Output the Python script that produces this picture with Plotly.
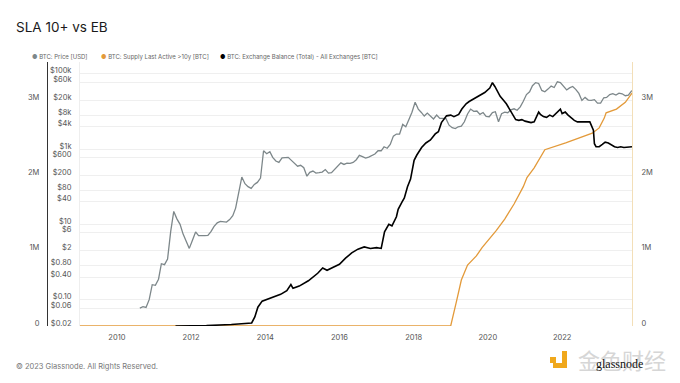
import math
import pandas as pd
import plotly.graph_objects as go

# ---------------- data ----------------
price_start = "2010-07-15"
price_usd = [
    # 2010 Jul..Dec
    0.06, 0.065, 0.062, 0.1, 0.25, 0.24,
    # 2011
    0.35, 0.9, 0.85, 1.2, 6.5, 22, 14, 10, 5.5, 3.5, 2.3, 3.8,
    # 2012
    6.3, 5.0, 4.9, 5.0, 5.1, 6.4, 8.8, 11, 12, 11.5, 11.5, 13.4,
    # 2013
    17, 27, 70, 180, 120, 100, 90, 115, 130, 170, 900, 750,
    # 2014
    850, 600, 480, 440, 580, 600, 600, 500, 410, 350, 370, 320,
    # 2015
    190, 240, 260, 230, 235, 245, 285, 230, 235, 290, 360, 430,
    # 2016
    390, 420, 415, 440, 520, 680, 630, 575, 610, 680, 740, 900,
    # 2017
    900, 1150, 1050, 1330, 2200, 2500, 2500, 4500, 3900, 6100, 9500, 17500,
    # 2018
    11500, 9500, 7500, 9000, 7600, 6300, 8000, 6500, 6500, 6400, 4300, 3700,
    # 2019
    3500, 3900, 4050, 5300, 8500, 11500, 10000, 10200, 8300, 9300, 7400, 7200,
    # 2020
    9300, 9800, 5300, 8700, 9500, 9200, 11000, 11700, 10700, 13200, 18500, 28000,
    # 2021
    33000, 48000, 58000, 55000, 36000, 33000, 39000, 47000, 43000, 61000, 58000, 47000,
    # 2022
    37000, 42000, 46000, 38500, 30000, 19500, 23500, 20000, 19500, 20500, 16500, 16600,
    # 2023 Jan..Nov
    23000, 23500, 28000, 29500, 27000, 30500, 29300, 26000, 27000, 34500, 37000,
]
price_dates = pd.date_range(price_start, periods=len(price_usd), freq="MS") + pd.Timedelta(days=14)

exch_dates = [
    "2011-08-01", "2012-06-01", "2013-02-01", "2013-08-20", "2013-09-20", "2013-10-20",
    "2013-12-01", "2014-02-01", "2014-04-01", "2014-06-01", "2014-08-01", "2014-09-10",
    "2014-10-01", "2014-12-01", "2015-03-01", "2015-06-01", "2015-07-20", "2015-09-01",
    "2015-11-01", "2016-01-01", "2016-03-01", "2016-05-01", "2016-07-01", "2016-09-01",
    "2016-11-01", "2017-01-01", "2017-02-15", "2017-03-20", "2017-05-01", "2017-06-01",
    "2017-07-15", "2017-08-01", "2017-09-10", "2017-10-01", "2017-11-01", "2017-12-01",
    "2018-01-05", "2018-02-01", "2018-03-20", "2018-05-01", "2018-06-15", "2018-08-01",
    "2018-09-01", "2018-10-01", "2018-11-20", "2019-01-01", "2019-02-01", "2019-03-20",
    "2019-04-20", "2019-06-01", "2019-07-01", "2019-08-20", "2019-10-01", "2019-12-01",
    "2020-01-20", "2020-02-15", "2020-03-10", "2020-04-01", "2020-05-01", "2020-06-01",
    "2020-07-01", "2020-08-01", "2020-09-01", "2020-10-01", "2020-11-01", "2020-12-01",
    "2021-01-01", "2021-02-01", "2021-03-01", "2021-04-01", "2021-05-15", "2021-06-01",
    "2021-07-01", "2021-08-01", "2021-09-01", "2021-10-01", "2021-11-01", "2021-12-15",
    "2022-01-01", "2022-02-01", "2022-03-01", "2022-04-01", "2022-05-01", "2022-06-01",
    "2022-07-01", "2022-08-01", "2022-09-01", "2022-10-01", "2022-11-05", "2022-11-15",
    "2022-12-01", "2023-01-01", "2023-02-01", "2023-03-01", "2023-04-01", "2023-05-01",
    "2023-06-01", "2023-07-01", "2023-08-01", "2023-09-01", "2023-10-01", "2023-11-20",
]
exch_btc_m = [
    0.0, 0.005, 0.02, 0.04, 0.12, 0.25,
    0.33, 0.36, 0.38, 0.42, 0.47, 0.55,
    0.50, 0.53, 0.60, 0.70, 0.77, 0.74,
    0.78, 0.82, 0.90, 0.97, 1.02, 1.05,
    1.03, 1.04, 1.03, 1.25, 1.35, 1.33,
    1.45, 1.55, 1.65, 1.70, 1.85, 1.95,
    2.20, 2.27, 2.37, 2.43, 2.47, 2.55,
    2.58, 2.70, 2.79, 2.80, 2.78, 2.81,
    2.88, 2.95, 2.98, 3.02, 3.05, 3.10,
    3.16, 3.23, 3.18, 3.12, 3.05, 3.00,
    2.95, 2.88, 2.80, 2.74, 2.73, 2.74,
    2.72, 2.71, 2.70, 2.71, 2.84, 2.81,
    2.78, 2.77, 2.80, 2.78, 2.82, 2.88,
    2.82, 2.84, 2.80, 2.76, 2.73, 2.71,
    2.71, 2.70, 2.70, 2.71, 2.60, 2.42,
    2.38, 2.38, 2.41, 2.44, 2.43, 2.40,
    2.38, 2.37, 2.38, 2.37, 2.37, 2.38,
]

sla_dates = [
    "2009-01-03", "2018-12-31", "2019-02-25", "2019-04-15", "2019-06-15", "2019-09-10",
    "2019-11-05", "2020-02-01", "2020-03-25", "2020-06-15", "2020-09-15", "2020-12-15",
    "2021-01-20", "2021-04-01", "2021-06-15", "2021-07-15", "2022-02-05", "2022-07-15",
    "2022-10-25", "2023-01-01", "2023-02-20", "2023-03-10", "2023-06-20", "2023-09-15",
    "2023-11-20",
]
sla_btc_m = [
    0.0, 0.0, 0.32, 0.61, 0.81, 0.93,
    1.04, 1.18, 1.27, 1.42, 1.62, 1.85,
    1.97, 2.10, 2.27, 2.34, 2.43, 2.51,
    2.56, 2.63, 2.76, 2.83, 2.88, 2.97,
    3.09,
]

price_tick_vals = [100000, 60000, 20000, 8000, 4000, 1000, 600, 200, 80, 40, 10, 6, 2,
                   0.8, 0.4, 0.1, 0.06, 0.02]
price_tick_text = ["$100k", "$60k", "$20k", "$8k", "$4k", "$1k", "$600", "$200", "$80",
                   "$40", "$10", "$6", "$2", "$0.80", "$0.40", "$0.10", "$0.06", "$0.02"]
btc_tick_vals = [0, 1e6, 2e6, 3e6]
btc_tick_text = ["0", "1M", "2M", "3M"]
year_ticks = ["2010-01-01", "2012-01-01", "2014-01-01", "2016-01-01", "2018-01-01",
              "2020-01-01", "2022-01-01"]
year_text = ["2010", "2012", "2014", "2016", "2018", "2020", "2022"]

# ---------------- figure ----------------
GRAY = "#7d878a"
ORANGE = "#e39a3a"
BLACK = "#000000"
FONT = "Inter"

fig = go.Figure()
fig.add_trace(go.Scatter(x=price_dates, y=price_usd, mode="lines",
                         line=dict(color=GRAY, width=1.3), yaxis="y", showlegend=False))
fig.add_trace(go.Scatter(x=pd.to_datetime(sla_dates), y=[v * 1e6 for v in sla_btc_m],
                         mode="lines", line=dict(color=ORANGE, width=1.3),
                         yaxis="y2", showlegend=False))
fig.add_trace(go.Scatter(x=pd.to_datetime(exch_dates), y=[v * 1e6 for v in exch_btc_m],
                         mode="lines", line=dict(color=BLACK, width=1.6),
                         yaxis="y3", showlegend=False))

OFF = 8  # page body margin
W, H = 680 - OFF, 383 - OFF
ML, MR = 10, 10
PLOT_L, PLOT_R, PLOT_T, PLOT_B = 80, 632, 62, 326  # target pixel box in the screenshot
MT = PLOT_T - OFF
MB = H - (PLOT_B - OFF)
PW = W - ML - MR
PH = H - MT - MB


def px_x(px):
    return (px - OFF - ML) / PW


def px_y(py):
    return (H - MB - (py - OFF)) / PH


x0 = px_x(PLOT_L)
x1 = px_x(PLOT_R)
top_m = 3.505
top_log = math.log10(0.02) + 2 * top_m

tickfont = dict(family=FONT, size=7.5, color="#555555")

fig.update_layout(
    width=W, height=H,
    margin=dict(l=ML, r=MR, t=MT, b=MB),
    paper_bgcolor="white", plot_bgcolor="white",
    showlegend=False,
    xaxis=dict(domain=[x0, x1], type="date",
               range=["2009-01-03", "2023-11-20"],
               tickvals=year_ticks, ticktext=year_text,
               showgrid=False, zeroline=False, showline=False,
               ticks="", tickfont=tickfont, ticklabelstandoff=5),
    yaxis=dict(type="log", range=[math.log10(0.02), top_log],
               tickvals=price_tick_vals, ticktext=price_tick_text,
               showgrid=True, gridcolor="#efefef", gridwidth=1,
               zeroline=False, showline=True, linecolor="#eeeeee",
               ticks="", tickfont=tickfont, ticklabelstandoff=6, ticklabelshift=-3),
    yaxis2=dict(overlaying="y", side="right", anchor="x",
                range=[0, top_m * 1e6],
                tickvals=btc_tick_vals, ticktext=btc_tick_text,
                showgrid=False, zeroline=False,
                showline=True, linecolor="#f3dfb8", linewidth=1,
                ticks="", tickfont=tickfont, ticklabelstandoff=7, ticklabelshift=-3),
    yaxis3=dict(overlaying="y", side="left", anchor="free",
                position=px_x(47),
                range=[0, top_m * 1e6],
                tickvals=btc_tick_vals, ticktext=btc_tick_text,
                showgrid=False, zeroline=False,
                showline=True, linecolor="#333333", linewidth=1.2,
                ticks="", tickfont=tickfont, ticklabelstandoff=6, ticklabelshift=-3),
)

# title
fig.add_annotation(x=px_x(14), y=px_y(27), xref="paper", yref="paper",
                   text="SLA 10+ vs EB", showarrow=False, xanchor="left", yanchor="middle",
                   font=dict(family=FONT, size=13.5, color="#1a1a1a"))

# legend
legend_items = [
    (30, GRAY, "BTC: Price [USD]"),
    (99, ORANGE, "BTC: Supply Last Active >10y [BTC]"),
    (218, BLACK, "BTC: Exchange Balance (Total) - All Exchanges [BTC]"),
]
for lx, col, label in legend_items:
    fig.add_annotation(x=px_x(lx), y=px_y(57), xref="paper", yref="paper",
                       text=f"<span style='color:{col}'>●</span> {label}",
                       showarrow=False, xanchor="left", yanchor="middle",
                       font=dict(family=FONT, size=6, color="#666666"))

# footer
fig.add_annotation(x=px_x(14), y=px_y(366), xref="paper", yref="paper",
                   text="© 2023 Glassnode. All Rights Reserved.", showarrow=False,
                   xanchor="left", yanchor="middle",
                   font=dict(family=FONT, size=7.5, color="#777777"))

# watermark logo
for (ax0, ay0, ax1, ay1) in [(550, 357, 556, 363), (562, 351, 567, 368), (553, 363, 567, 368)]:
    fig.add_shape(type="rect", xref="paper", yref="paper",
                  x0=px_x(ax0), x1=px_x(ax1), y0=px_y(ay1), y1=px_y(ay0),
                  fillcolor="#f0a81c", line=dict(width=0))
fig.add_annotation(x=px_x(576), y=px_y(359), xref="paper", yref="paper",
                   text="金色财经", showarrow=False, xanchor="left", yanchor="middle",
                   font=dict(family="Noto Sans CJK SC", size=22, color="#d6d6d6"))
fig.add_annotation(x=px_x(594), y=px_y(364), xref="paper", yref="paper",
                   text="glassnode", showarrow=False, xanchor="left", yanchor="middle",
                   font=dict(family="Liberation Serif", size=12, color="#111111"))

fig.write_html("out.html")
